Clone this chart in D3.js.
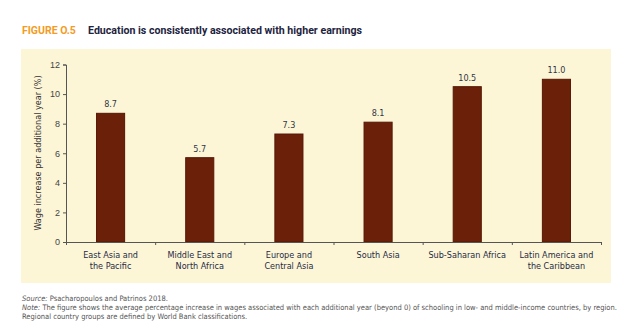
<!DOCTYPE html>
<html>
<head>
<meta charset="utf-8">
<script src="https://cdn.jsdelivr.net/npm/d3@7"></script>
<style>
  html, body { margin: 0; padding: 0; background: #fff; }
  svg { display: block; font-family: "Liberation Sans Narrow", "DejaVu Sans Condensed", sans-serif; }
</style>
</head>
<body>
<svg id="chart" width="640" height="332"></svg>
<script>
// Data
const regions = [
  ['East Asia and', 'the Pacific'],
  ['Middle East and', 'North Africa'],
  ['Europe and', 'Central Asia'],
  ['South Asia'],
  ['Sub-Saharan Africa'],
  ['Latin America and', 'the Caribbean']
];
const wageGain = [8.7, 5.7, 7.3, 8.1, 10.5, 11.0];
const yTicks = [0, 2, 4, 6, 8, 10, 12];
const footnotes = [
  { lead: 'Source:', text: ' Psacharopoulos and Patrinos 2018.' },
  { lead: 'Note:', text: ' The figure shows the average percentage increase in wages associated with each additional year (beyond 0) of schooling in low- and middle-income countries, by region.' },
  { lead: '', text: 'Regional country groups are defined by World Bank classifications.' }
];

const svg = d3.select('#chart');
const keys = regions.map(d => d.join(' '));
const data = keys.map((k, i) => ({ key: k, lines: regions[i], value: wageGain[i] }));

// Title
const title = svg.append('text').attr('x', 22).attr('y', 34)
  .style('font-family', 'Roboto, sans-serif')
  .style('font-size', '10.5px').style('font-weight', 'bold');
title.append('tspan').attr('fill', '#f39c1f').text('FIGURE O.5');
title.append('tspan').attr('x', 88).attr('fill', '#1e2340')
  .attr('textLength', 274).attr('lengthAdjust', 'spacingAndGlyphs')
  .text('Education is consistently associated with higher earnings');

// Cream panel
svg.append('rect')
  .attr('x', 21).attr('y', 49).attr('width', 590).attr('height', 234)
  .attr('fill', '#fdf6d6');

// Scales
const x = d3.scaleBand().domain(keys).range([66, 601])
  .paddingInner(0.685).paddingOuter(0.3425);
const xSep = d3.scaleLinear().domain([0, keys.length]).range([66, 601]);
const y = d3.scaleLinear().domain([0, 12]).range([242, 64.5]);

// Y axis
const yAxis = svg.append('g').attr('transform', 'translate(66,0)')
  .call(d3.axisLeft(y).tickValues(yTicks).tickSize(3).tickPadding(3));
yAxis.select('.domain').attr('stroke', '#555');
yAxis.selectAll('line').attr('stroke', '#555');
yAxis.selectAll('text').attr('fill', '#444').style('font-size', '9px');

svg.append('text')
  .attr('transform', 'translate(41,153) rotate(-90)')
  .attr('text-anchor', 'middle')
  .attr('fill', '#333')
  .style('font-size', '9px')
  .text('Wage increase per additional year (%)');

// Bars
svg.append('g').selectAll('rect').data(data).join('rect')
  .attr('x', d => x(d.key))
  .attr('y', d => y(d.value))
  .attr('width', x.bandwidth())
  .attr('height', d => y(0) - y(d.value))
  .attr('fill', '#6b2109')
  .attr('stroke', '#561604')
  .attr('stroke-width', 1);

// Value labels
svg.append('g').selectAll('text').data(data).join('text')
  .attr('x', d => x(d.key) + x.bandwidth() / 2)
  .attr('y', d => y(d.value) - 6)
  .attr('text-anchor', 'middle')
  .attr('fill', '#2f3648')
  .style('font-size', '9px')
  .text(d => d3.format('.1f')(d.value));

// X axis with separator ticks between categories
const xAxis = svg.append('g').attr('transform', `translate(0,${y(0)})`)
  .call(d3.axisBottom(xSep).ticks(keys.length).tickSize(3).tickSizeOuter(0).tickFormat(''));
xAxis.select('.domain').attr('d', `M63,0.5H601`).attr('stroke', '#555');
xAxis.selectAll('line').attr('stroke', '#555');

// Category labels
const cat = svg.append('g').selectAll('text').data(data).join('text')
  .attr('x', d => x(d.key) + x.bandwidth() / 2)
  .attr('y', 258)
  .attr('text-anchor', 'middle')
  .attr('fill', '#262a45')
  .style('font-size', '9px');
cat.selectAll('tspan').data(d => d.lines.map(l => ({ l, cx: x(d.key) + x.bandwidth() / 2 }))).join('tspan')
  .attr('x', d => d.cx)
  .attr('dy', (d, i) => i === 0 ? 0 : 11)
  .text(d => d.l);

// Footnotes
const notes = svg.append('g').selectAll('text').data(footnotes).join('text')
  .attr('x', 22)
  .attr('y', (d, i) => 301 + i * 9)
  .attr('fill', '#555')
  .style('font-size', '7.5px');
notes.append('tspan').style('font-style', 'italic').text(d => d.lead);
notes.append('tspan').text(d => d.text);
</script>
</body>
</html>
